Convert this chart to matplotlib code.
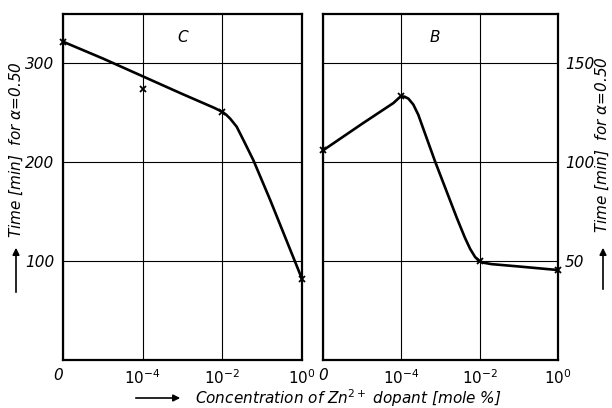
import matplotlib
matplotlib.use("Agg")
import matplotlib.pyplot as plt

plt.rcParams["mathtext.default"] = "it"

# categories (equally spaced positions on the concentration axis)
x_labels = ["0", "$10^{-4}$", "$10^{-2}$", "$10^{0}$"]
x_pos = [0, 1, 2, 3]

# Panel C (left axis, minutes)
c_meas = [322, 274, 251, 82]
c_curve_x = [0, 0.5, 1, 1.5, 1.9, 2.0, 2.05, 2.1, 2.18, 2.28, 2.39, 2.6, 2.8, 3]
c_curve_y = [322, 305, 287, 269, 255, 251, 248, 244, 236, 220, 202, 162, 122, 82]

# Panel B (right axis, minutes)
b_curve_x = [0, 0.5, 0.9, 0.97, 1.0, 1.04, 1.09, 1.153, 1.217, 1.28, 1.43, 1.6, 1.707, 1.81, 1.877, 1.94, 1.98, 2.0, 2.05, 2.15, 2.5, 3]
b_curve_y = [106, 119.5, 130, 132.6, 133.3, 133.2, 132.2, 129.2, 124.0, 117.0, 100.5, 83, 72, 62, 56.3, 52.2, 50.5, 50, 49.2, 48.5, 47.3, 45.5]
b_meas = [106, 133.3, 50, 45.5]

c_yticks = [100, 200, 300]
b_yticks = [50, 100, 150]

fs = 11
font = dict(style="italic", family="DejaVu Sans", fontsize=fs)

fig = plt.figure(figsize=(6.12, 4.08), dpi=100)
axC = fig.add_axes([63/612, 1-360/408, 239/612, 346/408])
axB = fig.add_axes([323/612, 1-360/408, 235/612, 346/408])

for ax in (axC, axB):
    ax.set_xlim(0, 3)
    ax.set_xticks(x_pos)
    ax.set_xticklabels(x_labels, **font)
    ax.grid(True, color="black", lw=0.8)
    ax.tick_params(length=0, pad=6)
    for s in ax.spines.values():
        s.set_linewidth(1.6)

axC.set_ylim(0, 350)
axC.set_yticks(c_yticks)
axC.set_yticklabels([str(v) for v in c_yticks], **font)
axC.plot(c_curve_x, c_curve_y, color="black", lw=1.9, solid_capstyle="round", solid_joinstyle="round")
axC.plot(x_pos, c_meas, "x", color="black", ms=5, mew=1.3, clip_on=False)
axC.text(1.5, 326, "C", ha="center", va="center", **font)
axC.get_xticklabels()[0].set_ha("right")

axB.set_ylim(0, 175)
axB.set_yticks(b_yticks)
axB.yaxis.tick_right()
axB.set_yticklabels([str(v) for v in b_yticks], **font)
axB.tick_params(axis="y", pad=5)
axB.plot(b_curve_x, b_curve_y, color="black", lw=1.9, solid_capstyle="round", solid_joinstyle="round")
axB.plot(x_pos, b_meas, "x", color="black", ms=5, mew=1.3, clip_on=False)
axB.text(1.43, 163, "B", ha="center", va="center", **font)

# Y labels with arrows
ylab = r"Time [min]  for $\alpha$=0.50"
fig.text(16/612, 1-150/408, ylab, rotation=90, ha="center", va="center", **font)
fig.text(602/612, 1-145/408, ylab, rotation=90, ha="center", va="center", **font)
for xa, y0, y1 in [(16, 295, 245), (603, 292, 245)]:
    fig.add_artist(matplotlib.patches.FancyArrowPatch(
        (xa/612, 1-y0/408), (xa/612, 1-y1/408), transform=fig.transFigure,
        arrowstyle="-|>,head_length=4,head_width=2", color="black", lw=1.2))

# X label with arrow
fig.text(195/612, 1-398/408, r"Concentration of Zn$^{2+}$ dopant [mole %]", ha="left", va="center", **font)
fig.add_artist(matplotlib.patches.FancyArrowPatch(
    (133/612, 1-398/408), (183/612, 1-398/408), transform=fig.transFigure,
    arrowstyle="-|>,head_length=4,head_width=2", color="black", lw=1.2))

fig.savefig("out.png", dpi=100)
